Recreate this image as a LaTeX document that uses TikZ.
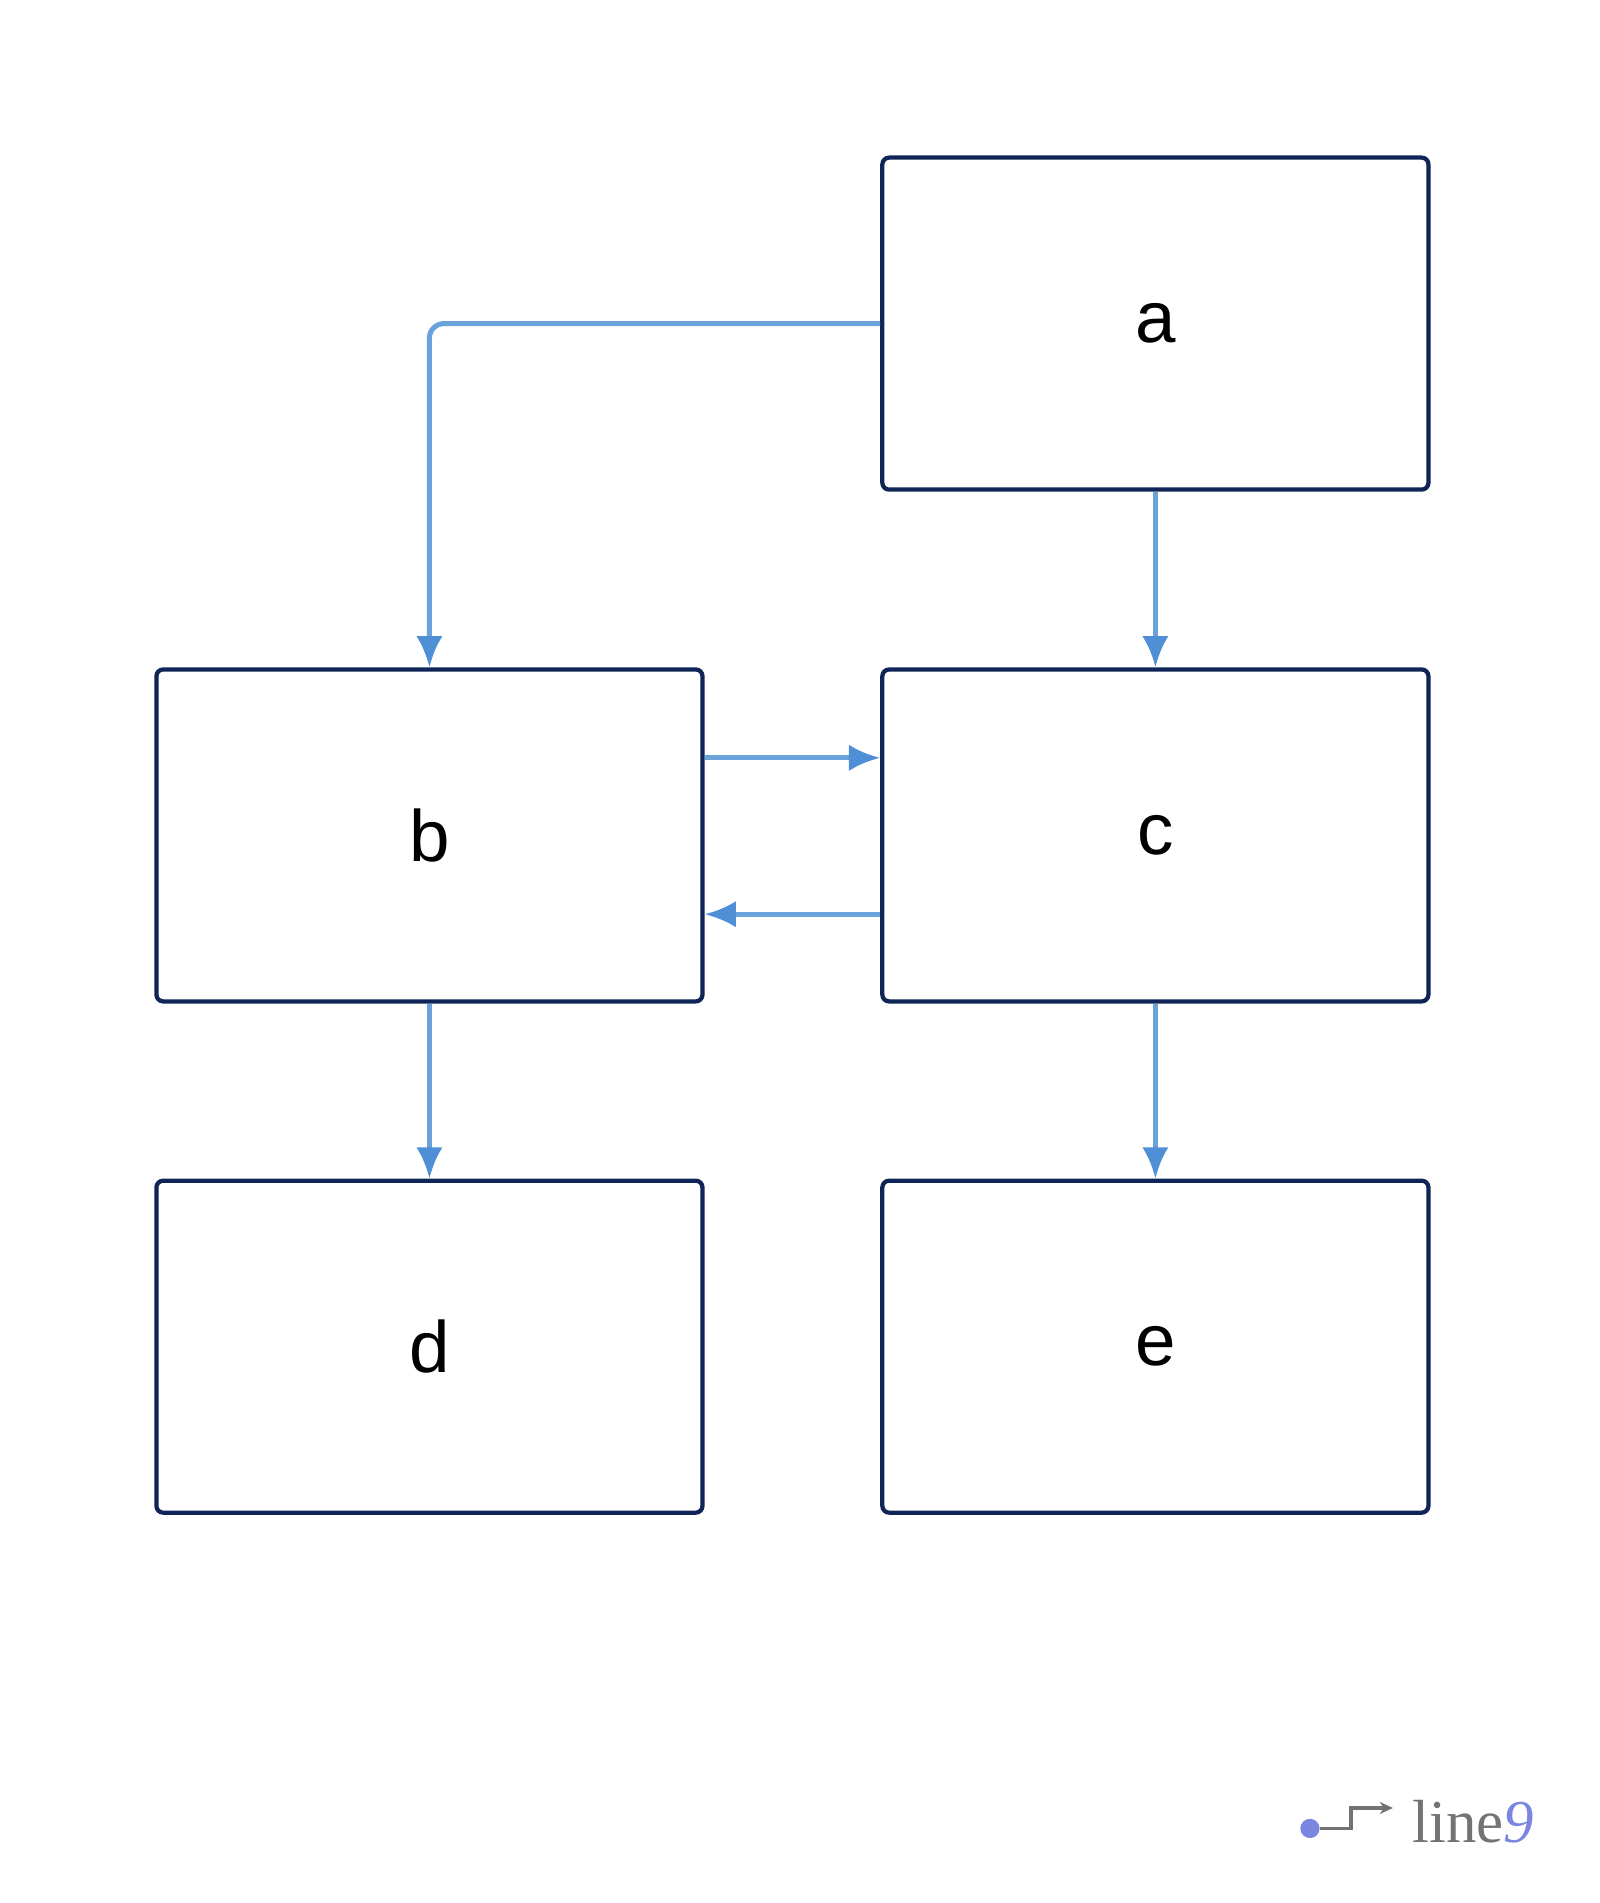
\documentclass[tikz,border=0pt]{standalone}
\usepackage{fontspec}
\setmainfont{Liberation Sans}
\usetikzlibrary{arrows.meta}
\definecolor{navy}{HTML}{0F2557}
\definecolor{edge}{HTML}{6AA3DC}
\definecolor{tipc}{HTML}{4F8FD6}
\definecolor{logop}{HTML}{7B86E0}
\begin{document}
\begin{tikzpicture}[x=0.05cm,y=-0.05cm,
  box/.style={draw=navy,line width=5pt,rounded corners=8pt,fill=white,minimum width=22.7cm,minimum height=13.8cm,font=\fontsize{86}{96}\selectfont},
  conn/.style={draw=edge,line width=6pt,-{Latex[length=1.3cm,width=1.1cm,color=tipc]}}]
\useasboundingbox (0,0) rectangle (1330,1582);
\node[box] (a) at (960.5,269) {a};
\node[box] (b) at (357,694.5) {b};
\node[box] (c) at (960.5,694.5) {c};
\node[box] (d) at (357,1119.5) {d};
\node[box] (e) at (960.5,1119.5) {e};
\draw[conn,rounded corners=0.6cm] (a.west) -| (b.north);
\draw[conn] (a.south) -- (c.north);
\draw[conn] (b.east |- 0,630) -- (c.west |- 0,630);
\draw[conn] (c.west |- 0,760) -- (b.east |- 0,760);
\draw[conn] (b.south) -- (d.north);
\draw[conn] (c.south) -- (e.north);
% logo
\fill[logop] (1089,1520) circle (8);
\draw[gray!90!black,line width=4pt,-{Stealth[length=0.55cm,width=0.5cm]}] (1097,1520) -- (1123,1520) -- (1123,1503) -- (1158,1503);
\node[anchor=base west,inner sep=0,text=gray!90!black,font=\fontspec{Liberation Serif}\fontsize{72}{72}\selectfont] (logo) at (1174,1532) {line\textcolor{logop}{\itshape 9}};
\end{tikzpicture}
\end{document}
